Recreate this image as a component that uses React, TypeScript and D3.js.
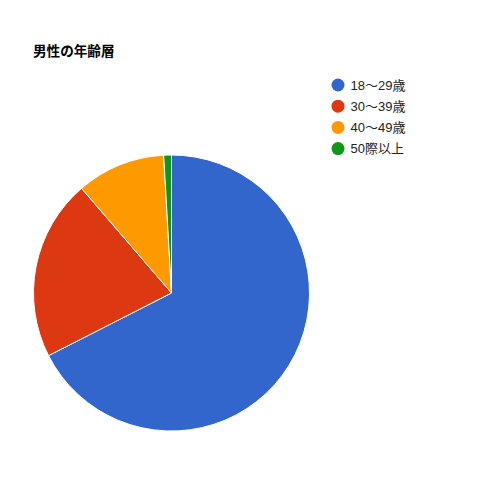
import React from "react";
import * as d3 from "d3";

const categories = ["18〜29歳", "30〜39歳", "40〜49歳", "50際以上"];
const values = [67.5, 21.2, 10.4, 0.9];
const colors = ["#3366cc", "#dc3912", "#ff9900", "#109618"];
const title = "男性の年齢層";

export default function App() {
  const width = 500;
  const height = 500;
  const cx = 171.5;
  const cy = 293;
  const r = 138;
  const pie = d3.pie<number>().sort(null).value((d) => d);
  const arcs = pie(values);
  const arc = d3.arc<d3.PieArcDatum<number>>().innerRadius(0).outerRadius(r);
  const font = "'Liberation Sans', 'Noto Sans CJK JP', Arial, sans-serif";
  return (
    <svg
      width={width}
      height={height}
      style={{ position: "absolute", left: 0, top: 0, background: "#fff" }}
    >
      <text x={33} y={55.5} fontFamily={font} fontSize={13.6} fontWeight="bold" fill="#000">
        {title}
      </text>
      <g transform={`translate(${cx},${cy})`}>
        {arcs.map((a, i) => (
          <path key={i} d={arc(a) || ""} fill={colors[i]} stroke="#fff" strokeWidth={1} />
        ))}
      </g>
      <g fontFamily={font} fontSize={13} fill="#222">
        {categories.map((c, i) => (
          <g key={c} transform={`translate(338,${85 + i * 21.2})`}>
            <circle r={6.5} fill={colors[i]} />
            <text x={12.5} y={4.7}>{c}</text>
          </g>
        ))}
      </g>
    </svg>
  );
}
